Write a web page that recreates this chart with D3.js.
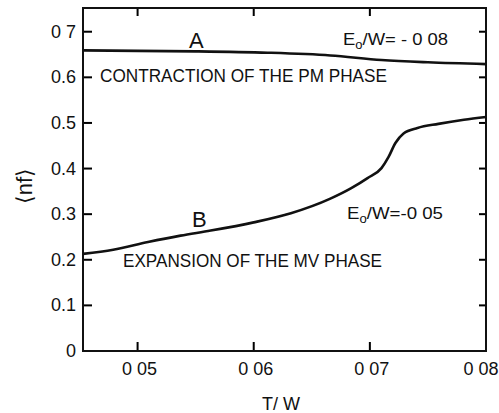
<!DOCTYPE html>
<html>
<head>
<meta charset="utf-8">
<script src="https://cdn.jsdelivr.net/npm/d3@7"></script>
<style>
  body { margin: 0; background: #fff; }
  svg text { font-family: "Liberation Sans", Arial, sans-serif; fill: #111; }
</style>
</head>
<body>
<div id="chart"></div>
<script>
'use strict';

// values
let xTicks = [0.05, 0.06, 0.07, 0.08];
let xTickLabels = ['0 05', '0 06', '0 07', '0 08'];
let yTicks = [0, 0.1, 0.2, 0.3, 0.4, 0.5, 0.6, 0.7];
let yTickLabels = ['0', '0.1', '0.2', '0.3', '0.4', '0.5', '0.6', '0 7'];

let curveA_T = [0.0453, 0.05, 0.055, 0.0612, 0.0666, 0.071, 0.075, 0.08];
let curveA_n = [0.659, 0.658, 0.657, 0.654, 0.648, 0.638, 0.633, 0.629];

let curveB_T = [0.0453, 0.0479, 0.0509, 0.0537, 0.0563, 0.06, 0.0632, 0.0666, 0.0684, 0.0698,
  0.0710, 0.0716, 0.0722, 0.0729, 0.0741, 0.0759, 0.0781, 0.08];
let curveB_n = [0.213, 0.222, 0.239, 0.253, 0.264, 0.282, 0.302, 0.334, 0.357, 0.379,
  0.401, 0.425, 0.456, 0.477, 0.489, 0.498, 0.507, 0.513];

let margin = {top: 8, right: 13, bottom: 62, left: 83};
let W = 499, H = 413;
let width = W - margin.left - margin.right;
let height = H - margin.top - margin.bottom;

let svg = d3.select('#chart').append('svg')
  .attr('width', W)
  .attr('height', H);

let g = svg.append('g')
  .attr('transform', 'translate(' + margin.left + ',' + margin.top + ')');

let x = d3.scaleLinear().domain([0.0453, 0.08]).range([0, width]);
let y = d3.scaleLinear().domain([0, 0.752]).range([height, 0]);

// inward tick marks as small filled bars
let tickG = g.append('g').attr('fill', '#000');
tickG.selectAll('rect.yl')
  .data(yTicks.slice(1))
  .join('rect')
  .attr('class', 'yl')
  .attr('x', 0)
  .attr('y', function(d){ return y(d) - 1; })
  .attr('width', 9).attr('height', 2);
tickG.selectAll('rect.yr')
  .data(yTicks.slice(1))
  .join('rect')
  .attr('class', 'yr')
  .attr('x', width - 7)
  .attr('y', function(d){ return y(d) - 1; })
  .attr('width', 7).attr('height', 2);
tickG.selectAll('rect.xb')
  .data(xTicks.slice(0, 3))
  .join('rect')
  .attr('class', 'xb')
  .attr('x', function(d){ return x(d) - 1; })
  .attr('y', height - 9)
  .attr('width', 2).attr('height', 9);
tickG.selectAll('rect.xt')
  .data(xTicks.slice(0, 3))
  .join('rect')
  .attr('class', 'xt')
  .attr('x', function(d){ return x(d) - 1; })
  .attr('y', 0)
  .attr('width', 2).attr('height', 8);

// frame
g.append('rect')
  .attr('width', width)
  .attr('height', height)
  .attr('fill', 'none')
  .attr('stroke', '#111')
  .attr('stroke-width', 2);

// tick labels
g.append('g').selectAll('text')
  .data(yTicks)
  .join('text')
  .attr('x', -7)
  .attr('y', function(d){ return y(d) + 6; })
  .attr('text-anchor', 'end')
  .attr('font-size', 18)
  .text(function(d, i){ return yTickLabels[i]; });

g.append('g').selectAll('text')
  .data(xTicks)
  .join('text')
  .attr('x', function(d, i){ return x(d) + (i === 3 ? -5 : 2); })
  .attr('y', height + 24)
  .attr('text-anchor', 'middle')
  .attr('font-size', 18)
  .text(function(d, i){ return xTickLabels[i]; });

let line = d3.line()
  .x(function(d){ return x(d[0]); })
  .y(function(d){ return y(d[1]); })
  .curve(d3.curveMonotoneX);

g.append('path')
  .datum(d3.zip(curveA_T, curveA_n))
  .attr('d', line)
  .attr('fill', 'none')
  .attr('stroke', '#111')
  .attr('stroke-width', 2.6);

g.append('path')
  .datum(d3.zip(curveB_T, curveB_n))
  .attr('d', line)
  .attr('fill', 'none')
  .attr('stroke', '#111')
  .attr('stroke-width', 2.6);

// annotations (page coordinates)
function label(txt, px, py, size, len){
  let t = svg.append('text')
    .attr('x', px).attr('y', py)
    .attr('font-size', size)
    .text(txt);
  if(len) {
    t.attr('textLength', len).attr('lengthAdjust', 'spacingAndGlyphs');
  }
  return t;
}

label('A', 189, 48, 22);
label('B', 192, 227, 22);
label('CONTRACTION OF THE PM PHASE', 100, 82, 18, 287);
label('EXPANSION OF THE MV PHASE', 123, 267, 18, 259);

function eLabel(rest, px, py, len){
  let t = svg.append('text').attr('x', px).attr('y', py).attr('font-size', 17);
  t.append('tspan').text('E');
  t.append('tspan').attr('font-size', 12).attr('dy', 4).text('o');
  t.append('tspan').attr('dy', -4).text(rest);
  if(len) {
    t.attr('textLength', len).attr('lengthAdjust', 'spacingAndGlyphs');
  }
}
eLabel('/W= - 0 08', 343, 45, 105);
eLabel('/W=-0 05', 347, 219, 96);

// axis titles
svg.append('text')
  .attr('x', 281).attr('y', 410)
  .attr('text-anchor', 'middle')
  .attr('font-size', 18)
  .text('T/ W');

svg.append('text')
  .attr('transform', 'translate(32,186) rotate(-90)')
  .attr('text-anchor', 'middle')
  .attr('font-family', 'DejaVu Sans')
  .attr('font-size', 22)
  .text('\u27E8nf\u27E9');
</script>
</body>
</html>
